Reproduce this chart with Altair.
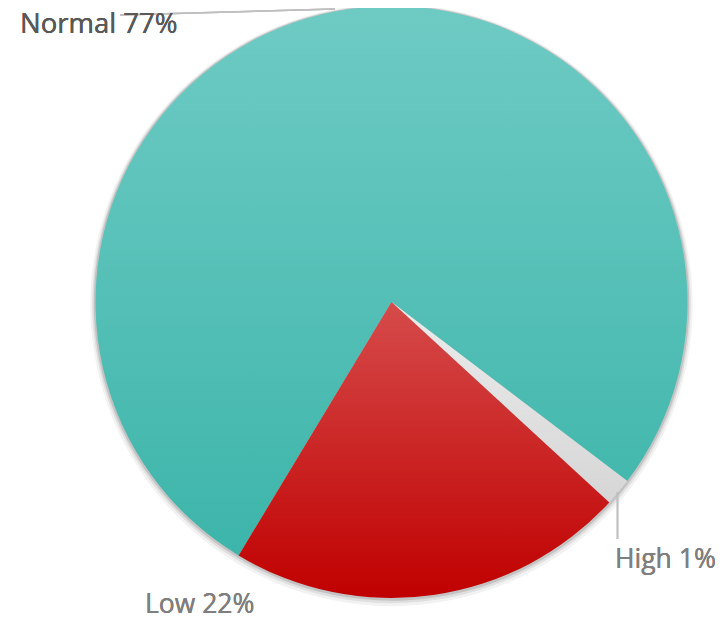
import altair as alt
import pandas as pd
import math

# ---- data ----
categories = ["Normal", "High", "Low"]
values = [76.7, 1.5, 21.8]
labels = ["Normal 77%", "High 1%", "Low 22%"]
order = [0, 1, 2]

df = pd.DataFrame({"category": categories, "value": values, "order": order})
total = sum(values)

# ---- layout ----
W, H = 708, 609
CX, CY = 383.5, 294
R = 296
START = math.radians(211.1)

theta_scale = alt.Scale(domain=[0, total], range=[START, START + 2 * math.pi])

def grad(c0, c1):
    return alt.Gradient(
        gradient="linear",
        stops=[alt.GradientStop(color=c0, offset=0), alt.GradientStop(color=c1, offset=1)],
        x1=0, x2=0, y1=0, y2=1,
    )

fills = {
    "Normal": grad("#6ecbc4", "#3db5aa"),
    "High": grad("#ececec", "#d6d6d6"),
    "Low": grad("#d64b4b", "#c00000"),
}

base = alt.Chart(df).transform_stack(
    stack="value", groupby=[], as_=["v0", "v1"], sort=[alt.SortField("order")]
)

# soft shadow
shadows = []
for dr, dy, op in [(5, 3, 0.05), (3, 2, 0.08), (1.5, 1, 0.12)]:
    shadows.append(
        alt.Chart(pd.DataFrame({"a": [0], "b": [total]})).mark_arc(
            x=CX, y=CY + dy, radius=R + dr, color="#000000", opacity=op
        ).encode(
            theta=alt.Theta("a:Q", scale=theta_scale),
            theta2="b:Q",
        )
    )

slices = []
for cat in categories:
    slices.append(
        base.transform_filter(alt.datum.category == cat).mark_arc(
            x=CX, y=CY, radius=R, fill=fills[cat]
        ).encode(
            theta=alt.Theta("v0:Q", scale=theta_scale),
            theta2="v1:Q",
        )
    )

line_color = "#bfbfbf"
lead_normal = alt.Chart(df).mark_rule(color=line_color, strokeWidth=1.5).encode(
    x=alt.value(112), x2=alt.value(327), y=alt.value(7), y2=alt.value(1)
)
lead_high = alt.Chart(df).mark_rule(color=line_color, strokeWidth=1.5).encode(
    x=alt.value(609.5), x2=alt.value(609.5), y=alt.value(484), y2=alt.value(531)
)

font = "Open Sans"
t_normal = alt.Chart(df).mark_text(
    align="left", baseline="alphabetic", font=font, fontSize=27.5, color="#595959"
).encode(x=alt.value(12), y=alt.value(25), text=alt.value(labels[0]))
t_high = alt.Chart(df).mark_text(
    align="left", baseline="alphabetic", font=font, fontSize=26.5, color="#7f7f7f"
).encode(x=alt.value(607), y=alt.value(560), text=alt.value(labels[1]))
t_low = alt.Chart(df).mark_text(
    align="left", baseline="alphabetic", font=font, fontSize=26.5, color="#7f7f7f"
).encode(x=alt.value(137), y=alt.value(605), text=alt.value(labels[2]))

chart = alt.layer(
    *shadows, *slices, lead_normal, lead_high, t_normal, t_high, t_low
).properties(
    width=W, height=H, padding=0, autosize=alt.AutoSizeParams(type="none")
).configure_view(strokeWidth=0)

chart.save("out.html", embed_options={"renderer": "svg", "actions": False})
